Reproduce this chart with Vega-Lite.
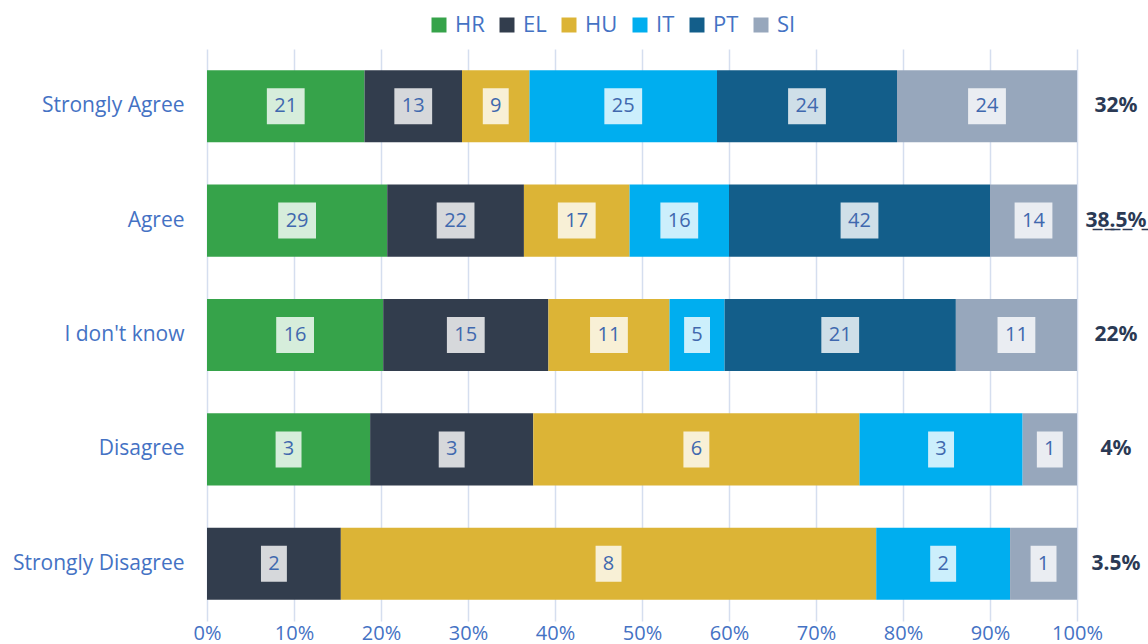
{
  "$schema": "https://vega.github.io/schema/vega-lite/v6.json",
  "width": 870,
  "height": 572,
  "autosize": "none",
  "padding": {"left": 207, "top": 49, "right": 71, "bottom": 23},
  "background": "white",
  "config": {"font": "Open Sans", "view": {"stroke": null}},
  "datasets": {
    "counts": [
      {"answer": "Strongly Agree", "country": "HR", "n": 21},
      {"answer": "Strongly Agree", "country": "EL", "n": 13},
      {"answer": "Strongly Agree", "country": "HU", "n": 9},
      {"answer": "Strongly Agree", "country": "IT", "n": 25},
      {"answer": "Strongly Agree", "country": "PT", "n": 24},
      {"answer": "Strongly Agree", "country": "SI", "n": 24},
      {"answer": "Agree", "country": "HR", "n": 29},
      {"answer": "Agree", "country": "EL", "n": 22},
      {"answer": "Agree", "country": "HU", "n": 17},
      {"answer": "Agree", "country": "IT", "n": 16},
      {"answer": "Agree", "country": "PT", "n": 42},
      {"answer": "Agree", "country": "SI", "n": 14},
      {"answer": "I don't know", "country": "HR", "n": 16},
      {"answer": "I don't know", "country": "EL", "n": 15},
      {"answer": "I don't know", "country": "HU", "n": 11},
      {"answer": "I don't know", "country": "IT", "n": 5},
      {"answer": "I don't know", "country": "PT", "n": 21},
      {"answer": "I don't know", "country": "SI", "n": 11},
      {"answer": "Disagree", "country": "HR", "n": 3},
      {"answer": "Disagree", "country": "EL", "n": 3},
      {"answer": "Disagree", "country": "HU", "n": 6},
      {"answer": "Disagree", "country": "IT", "n": 3},
      {"answer": "Disagree", "country": "SI", "n": 1},
      {"answer": "Strongly Disagree", "country": "EL", "n": 2},
      {"answer": "Strongly Disagree", "country": "HU", "n": 8},
      {"answer": "Strongly Disagree", "country": "IT", "n": 2},
      {"answer": "Strongly Disagree", "country": "SI", "n": 1}
    ],
    "totals": [
      {"answer": "Strongly Agree", "share": "32%"},
      {"answer": "Agree", "share": "3\u03328\u0332.\u03325\u0332%\u0332"},
      {"answer": "I don't know", "share": "22%"},
      {"answer": "Disagree", "share": "4%"},
      {"answer": "Strongly Disagree", "share": "3.5%"}
    ]
  },
  "encoding": {
    "y": {
      "field": "answer",
      "type": "nominal",
      "sort": ["Strongly Agree", "Agree", "I don't know", "Disagree", "Strongly Disagree"],
      "scale": {"paddingInner": 0.37, "paddingOuter": 0.185},
      "title": null,
      "axis": {
        "labelFontSize": 21,
        "labelColor": "#4472C4",
        "labelPadding": 23,
        "ticks": false,
        "domain": false,
        "grid": false
      }
    }
  },
  "layer": [
    {
      "data": {"name": "counts"},
      "transform": [
        {"calculate": "indexof(['HR','EL','HU','IT','PT','SI'], datum.country)", "as": "ord"},
        {"stack": "n", "groupby": ["answer"], "sort": [{"field": "ord", "order": "ascending"}], "offset": "normalize", "as": ["x0", "x1"]},
        {"calculate": "(datum.x0 + datum.x1) / 2", "as": "mid"}
      ],
      "layer": [
        {
          "mark": {"type": "bar"},
          "encoding": {
            "x": {
              "field": "x0",
              "type": "quantitative",
              "scale": {"domain": [0, 1], "nice": false},
              "title": null,
              "axis": {
                "values": [0, 0.1, 0.2, 0.3, 0.4, 0.5, 0.6, 0.7, 0.8, 0.9, 1],
                "format": ".0%",
                "labelFontSize": 20,
                "labelColor": "#4472C4",
                "labelPadding": 2,
                "ticks": false,
                "domain": false,
                "grid": true,
                "gridColor": "#D5DEEF",
                "gridWidth": 1.5,
                "gridOpacity": 1,
                "labelFlush": false
              }
            },
            "x2": {"field": "x1"},
            "color": {
              "field": "country",
              "type": "nominal",
              "scale": {
                "domain": ["HR", "EL", "HU", "IT", "PT", "SI"],
                "range": ["#36A34A", "#323D4D", "#DCB436", "#00AEEF", "#135E8A", "#97A7BC"]
              },
              "legend": {
                "title": null,
                "orient": "none",
                "direction": "horizontal",
                "legendX": 221,
                "legendY": -35,
                "symbolType": "square",
                "symbolSize": 225,
                "symbolStrokeWidth": 0,
                "symbolOpacity": 1,
                "labelFontSize": 22,
                "labelColor": "#4472C4",
                "labelOffset": 5,
                "columnPadding": 11
              }
            }
          }
        },
        {
          "transform": [{"filter": "datum.n >= 10"}],
          "mark": {"type": "point", "shape": "M-1.05,-1H1.05V1H-1.05Z", "filled": true, "fill": "white", "fillOpacity": 0.8, "strokeOpacity": 0, "opacity": 1, "size": 1296},
          "encoding": {"x": {"field": "mid", "type": "quantitative"}}
        },
        {
          "transform": [{"filter": "datum.n < 10"}],
          "mark": {"type": "point", "shape": "M-0.72,-1H0.72V1H-0.72Z", "filled": true, "fill": "white", "fillOpacity": 0.8, "strokeOpacity": 0, "opacity": 1, "size": 1296},
          "encoding": {"x": {"field": "mid", "type": "quantitative"}}
        },
        {
          "mark": {"type": "text", "fontSize": 20, "color": "#4068AE", "baseline": "middle", "align": "center"},
          "encoding": {
            "x": {"field": "mid", "type": "quantitative"},
            "text": {"field": "n", "type": "quantitative"}
          }
        }
      ]
    },
    {
      "data": {"name": "totals"},
      "mark": {"type": "text", "dx": 39, "fontSize": 21, "font": "Noto Sans", "fontWeight": "bold", "color": "#2B3A55", "align": "center", "baseline": "middle"},
      "encoding": {
        "x": {"datum": 1, "type": "quantitative"},
        "text": {"field": "share", "type": "nominal"}
      }
    }
  ]
}
